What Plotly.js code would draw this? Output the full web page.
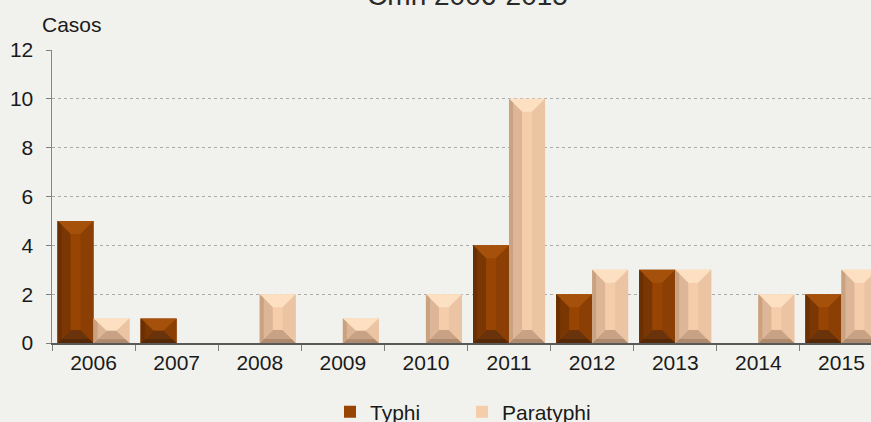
<!DOCTYPE html>
<html>
<head>
<meta charset="utf-8">
<script src="https://cdn.plot.ly/plotly-3.0.1.min.js"></script>
<style>
  html, body { margin: 0; padding: 0; background: #f1f2ed; overflow: hidden; width: 871px; height: 422px; }
  #chart { position: absolute; left: 0; top: -30px; width: 890px; height: 480px; }
</style>
</head>
<body>
<div id="chart"></div>
<script>
// Casos por año
const years = ['2006', '2007', '2008', '2009', '2010', '2011', '2012', '2013', '2014', '2015'];
const typhi = [5, 1, 0, 0, 0, 4, 2, 3, 0, 2];
const paratyphi = [1, 0, 2, 1, 2, 10, 3, 3, 2, 3];
const seriesNames = ['Typhi', 'Paratyphi'];
const yTicks = [0, 2, 4, 6, 8, 10, 12];

// Styling
const FONT = 'Liberation Sans, Arial, sans-serif';
const TEXT = '#1a1a1a';
const BARGAP = 0.1336;
const Y_MAX = 12;
const PLOT_H = 293;
const BAR_PX = 36;
const BEVEL_PX = 13;

const palettes = [
  { body: '#984504', top: '#a5500b', left: '#7a3703', edge: '#6a2f03', right: '#8b3f04', bottom: '#6a330b', base: '#552806' },
  { body: '#f6cdab', top: '#fde0c2', left: '#dcb697', edge: '#c9a282', right: '#eac4a3', bottom: '#c7a285', base: '#ad8a6e' }
];

const traces = [typhi, paratyphi].map((vals, s) => ({
  type: 'bar',
  name: seriesNames[s],
  x: years,
  y: vals,
  marker: { color: palettes[s].body, line: { width: 0 } },
  hoverinfo: 'x+y+name'
}));

// Bevelled faces on each bar: x offsets in pixels around the bar centre, y in data units
const bevelY = BEVEL_PX * Y_MAX / PLOT_H;
const half = BAR_PX / 2;
const inner = half - BEVEL_PX;
const barShift = (1 - BARGAP) / 4;
const shapes = [];
[typhi, paratyphi].forEach((vals, s) => {
  const p = palettes[s];
  vals.forEach((v, i) => {
    if (!v) return;
    const b = Math.min(bevelY, v / 2);
    const xc = i + (s === 0 ? -barShift : barShift);
    const face = (path, color) => shapes.push({
      type: 'path', xref: 'x', yref: 'y', xsizemode: 'pixel', xanchor: xc,
      path: path, fillcolor: color, line: { width: 0 }, layer: 'above'
    });
    const k = 4 / BEVEL_PX;
    face(`M${-half},${v} L${half},${v} L${inner},${v - b} L${-inner},${v - b} Z`, p.top);
    face(`M${-half},0 L${half},0 L${inner},${b} L${-inner},${b} Z`, p.bottom);
    face(`M${-half},0 L${half},0 L${half - 4},${b * k} L${-half + 4},${b * k} Z`, p.base);
    face(`M${-half},0 L${-inner},${b} L${-inner},${v - b} L${-half},${v} Z`, p.left);
    face(`M${-half},0 L${-half + 4},${b * k} L${-half + 4},${v - b * k} L${-half},${v} Z`, p.edge);
    face(`M${half},0 L${inner},${b} L${inner},${v - b} L${half},${v} Z`, p.right);
  });
});

const layout = {
  width: 890,
  height: 480,
  paper_bgcolor: '#f1f2ed',
  plot_bgcolor: '#f1f2ed',
  margin: { l: 52, r: 7, t: 80, b: 107 },
  font: { family: FONT, size: 21, color: TEXT },
  title: {
    text: 'Cmh 2006-2015',
    font: { family: FONT, size: 28, color: '#2a2a2a' },
    xref: 'paper', x: 0.5, xanchor: 'center',
    yref: 'container', y: 1 - 15 / 480, yanchor: 'top'
  },
  barmode: 'group',
  bargap: BARGAP,
  bargroupgap: 0,
  showlegend: true,
  legend: {
    orientation: 'h',
    xref: 'paper', x: (330 - 52) / 831, xanchor: 'left',
    yref: 'paper', y: -(442 - 373) / 293, yanchor: 'middle',
    entrywidth: 87,
    font: { family: FONT, size: 21, color: TEXT },
    bgcolor: 'rgba(0,0,0,0)'
  },
  xaxis: {
    type: 'category',
    range: [-0.5, 9.5],
    tickson: 'boundaries',
    ticks: 'outside', ticklen: 6, tickcolor: '#7f7f7f', tickwidth: 1,
    showline: true, linecolor: '#595959', linewidth: 1.5,
    showgrid: false, zeroline: false,
    tickfont: { family: FONT, size: 21, color: TEXT },
    fixedrange: true
  },
  yaxis: {
    range: [0, Y_MAX],
    tickvals: yTicks,
    ticks: 'outside', ticklen: 5, tickcolor: '#7f7f7f', tickwidth: 1,
    showline: true, linecolor: '#868686', linewidth: 1.5,
    showgrid: true, gridcolor: '#ababab', griddash: 'dot', gridwidth: 1,
    zeroline: false,
    ticklabelstandoff: 8,
    tickfont: { family: FONT, size: 21, color: TEXT },
    fixedrange: true
  },
  annotations: [{
    text: 'Casos',
    xref: 'paper', x: (40 - 52) / 831, xanchor: 'left',
    yref: 'paper', y: 1 + (50 - 24) / 293, yanchor: 'middle',
    showarrow: false,
    font: { family: FONT, size: 21, color: TEXT }
  }],
  shapes: shapes
};

Plotly.newPlot('chart', traces, layout, { displayModeBar: false, staticPlot: true });
</script>
</body>
</html>
